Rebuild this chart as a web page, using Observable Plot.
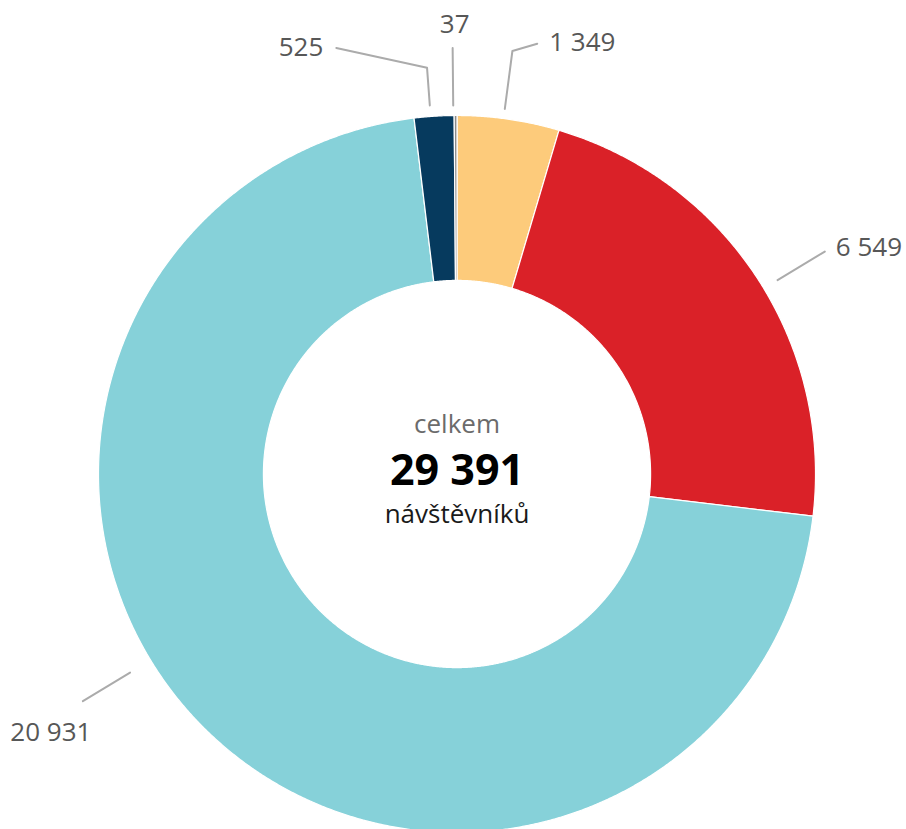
<!DOCTYPE html>
<html><head><meta charset="utf-8">
<script src="https://cdn.jsdelivr.net/npm/d3@7"></script>
<script src="https://cdn.jsdelivr.net/npm/@observablehq/plot@0.6"></script>
<style>
html,body{margin:0;padding:0;background:#fff;}
#chart{width:906px;height:829px;overflow:hidden;}
</style></head><body><div id="chart"></div>
<script>
// ---- data ----
const categories = ["segment 1", "segment 2", "segment 3", "segment 4", "segment 5"];
const values = [1349, 6549, 20931, 525, 37];
const colors = ["#FDCB7B", "#DA2128", "#86D1D9", "#063A5E", "#8A8A8A"];
const centerTop = "celkem";
const centerBottom = "návštěvníků";

// ---- layout ----
const W = 906, H = 829, CX = 456.5, CY = 473.5, R = 358.5, INNER = 0.54;
const xDomain = [-CX / R, (W - CX) / R];
const yDomain = [(CY - H) / R, CY / R];
// label layout: angle offset from slice middle, leader path (relative angle, radius), text placement
const labelLayout = [
  {off: -0.8, path: [[0, 1.027], [0, 1.19], [3.1, 1.221]], anchor: "start", dx: 12, dy: 7},
  {off: 2.2, path: [[0, 1.045], [0, 1.199]], anchor: "start", dx: 11, dy: 4},
  {off: 13.8, path: [[0, 1.067], [0, 1.221]], anchor: "middle", dx: -32, dy: 40},
  {off: -0.55, path: [[0, 1.031], [0, 1.136], [-11.6, 1.235]], anchor: "end", dx: -13, dy: 8},
  {off: -0.36, path: [[0, 1.028], [0, 1.188]], anchor: "middle", dx: 2, dy: -15}
];

const fmt = d3.formatLocale({decimal: ",", thousands: " ", grouping: [3], currency: ["", " Kč"]}).format(",d");
const total = d3.sum(values);

let acc = 0;
const slices = categories.map((c, i) => {
  const a0 = acc / total * 360; acc += values[i]; const a1 = acc / total * 360;
  return {c, v: values[i], color: colors[i], a0, a1, mid: (a0 + a1) / 2};
});
const pol = (deg, r) => { const a = deg * Math.PI / 180; return {x: r * Math.sin(a), y: r * Math.cos(a)}; };
function ring(s) {
  const pts = [];
  const n = Math.max(2, Math.ceil((s.a1 - s.a0) / 0.25));
  for (let k = 0; k <= n; k++) pts.push(pol(s.a0 + (s.a1 - s.a0) * k / n, 1));
  for (let k = n; k >= 0; k--) pts.push(pol(s.a0 + (s.a1 - s.a0) * k / n, INNER));
  return pts;
}

const sliceMarks = slices.map(s => Plot.line(ring(s), {
  x: "x", y: "y", fill: s.color, stroke: "white", strokeWidth: 1.2, curve: "linear-closed"
}));

const leaderPts = [];
const labelMarks = [];
slices.forEach((s, i) => {
  const L = labelLayout[i];
  const base = s.mid + L.off;
  const pts = L.path.map(([da, r]) => ({...pol(base + da, r), k: s.c}));
  leaderPts.push(...pts);
  const end = pts[pts.length - 1];
  labelMarks.push(Plot.text([{x: end.x, y: end.y, t: fmt(s.v)}], {
    x: "x", y: "y", text: "t", textAnchor: L.anchor, lineAnchor: "bottom",
    dx: L.dx, dy: L.dy, fontSize: 26, fill: "#575757", fontFamily: "Open Sans"
  }));
});

const chart = Plot.plot({
  width: W, height: H, margin: 0,
  x: {domain: xDomain, axis: null},
  y: {domain: yDomain, axis: null},
  style: {fontFamily: "Open Sans", background: "white"},
  marks: [
    ...sliceMarks,
    Plot.line(leaderPts, {x: "x", y: "y", z: "k", stroke: "#ababab", strokeWidth: 2}),
    ...labelMarks,
    Plot.text([{t: centerTop}], {x: () => 0, y: () => 0, text: "t", lineAnchor: "bottom", dy: -41, fontSize: 26, fill: "#6b6b6b", fontFamily: "Open Sans"}),
    Plot.text([{t: fmt(total)}], {x: () => 0, y: () => 0, text: "t", lineAnchor: "bottom", dy: 11, fontSize: 43, fontWeight: "bold", fill: "#000", fontFamily: "Open Sans"}),
    Plot.text([{t: centerBottom}], {x: () => 0, y: () => 0, text: "t", lineAnchor: "bottom", dy: 49, fontSize: 26, fill: "#1a1a1a", fontFamily: "Open Sans"})
  ]
});
document.getElementById("chart").appendChild(chart);
</script></body></html>
